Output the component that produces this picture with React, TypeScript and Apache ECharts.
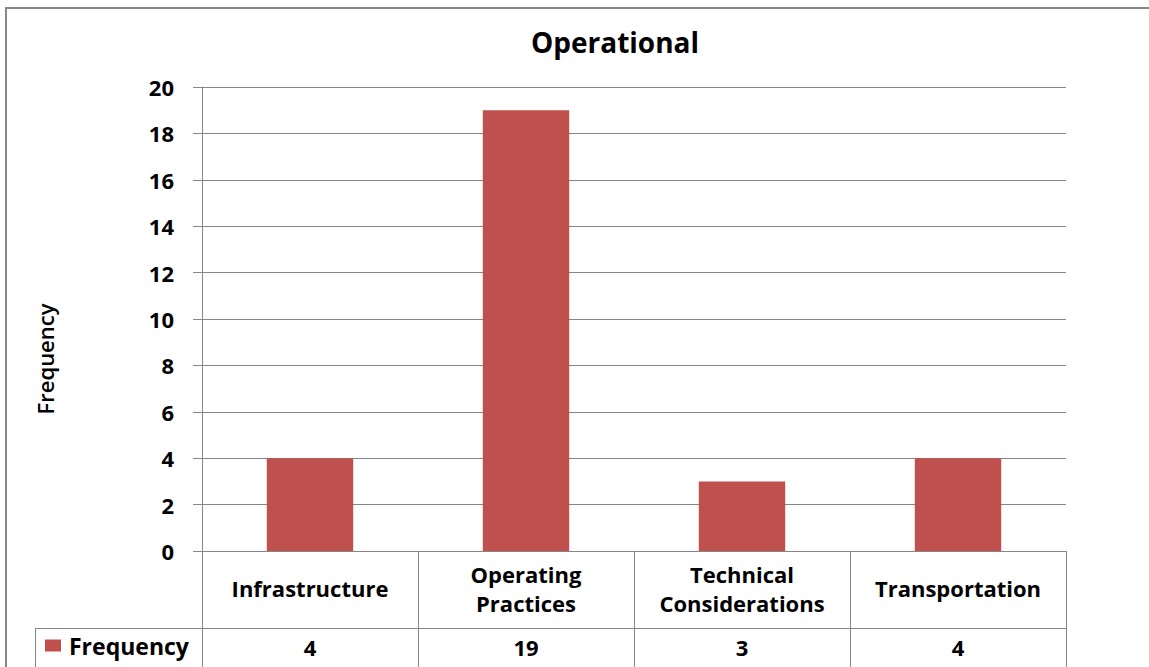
import React, { useEffect, useRef } from "react";
import * as echarts from "echarts";

const categories = ["Infrastructure", "Operating\nPractices", "Technical\nConsiderations", "Transportation"];
const frequency = [4, 19, 3, 4];
const yTicks = { min: 0, max: 20, interval: 2 };
const seriesName = "Frequency";
const titleText = "Operational";
const yAxisName = "Frequency";

const FONT = "'Open Sans', 'Noto Sans', sans-serif";
const GRAY = "#868686";
const RED = "#C0504D";

export default function App() {
  const ref = useRef<HTMLDivElement>(null);
  useEffect(() => {
    if (!ref.current) return;
    const chart = echarts.init(ref.current, null, { renderer: "svg" });
    chart.setOption({
      animation: false,
      backgroundColor: "#ffffff",
      title: {
        text: titleText,
        left: 531,
        top: 28,
        padding: 0,
        textStyle: { fontFamily: FONT, fontWeight: "bold", fontSize: 28, color: "#000" },
      },
      legend: {
        left: 45,
        top: 634,
        padding: 0,
        icon: "rect",
        itemWidth: 16,
        itemHeight: 12,
        itemGap: 0,
        textStyle: { fontFamily: FONT, fontWeight: "bold", fontSize: 23, color: "#000", padding: [0, 0, 0, 3] },
        data: [seriesName],
      },
      grid: { left: 202, top: 87, right: 83, bottom: 116, containLabel: false },
      xAxis: [
        {
          type: "category",
          data: categories,
          position: "bottom",
          axisLine: { show: true, lineStyle: { color: GRAY, width: 1 } },
          axisTick: { show: true, length: 77, lineStyle: { color: GRAY, width: 1 } },
          axisLabel: {
            interval: 0,
            margin: 37,
            verticalAlign: "middle",
            lineHeight: 29,
            fontFamily: FONT,
            fontWeight: "bold",
            fontSize: 22,
            color: "#000",
          },
          splitLine: { show: false },
        },
        {
          type: "category",
          data: categories,
          position: "bottom",
          offset: 77,
          axisLine: { show: true, lineStyle: { color: GRAY, width: 1 } },
          axisTick: { show: true, length: 42, lineStyle: { color: GRAY, width: 1 } },
          axisLabel: {
            interval: 0,
            margin: 19,
            verticalAlign: "middle",
            fontFamily: FONT,
            fontWeight: "bold",
            fontSize: 22,
            color: "#000",
            formatter: (_v: string, i: number) => String(frequency[i]),
          },
          splitLine: { show: false },
        },
      ],
      yAxis: {
        type: "value",
        min: yTicks.min,
        max: yTicks.max,
        interval: yTicks.interval,
        axisLine: { show: true, lineStyle: { color: GRAY, width: 1 } },
        axisTick: { show: true, length: 9, lineStyle: { color: GRAY, width: 1 } },
        axisLabel: { margin: 28, fontFamily: FONT, fontWeight: "bold", fontSize: 22, color: "#000" },
        splitLine: { show: true, lineStyle: { color: GRAY, width: 1 } },
      },
      series: [
        {
          name: seriesName,
          type: "bar",
          data: frequency,
          barWidth: "40%",
          itemStyle: { color: RED },
          xAxisIndex: 0,
        },
      ],
      graphic: [
        {
          type: "rect",
          shape: { x: 6, y: 8, width: 1170, height: 700 },
          style: { fill: "none", stroke: GRAY, lineWidth: 2 },
          silent: true,
        },
        {
          type: "line",
          shape: { x1: 35, y1: 628.5, x2: 202, y2: 628.5 },
          style: { stroke: GRAY, lineWidth: 1 },
          silent: true,
        },
        {
          type: "line",
          shape: { x1: 35.5, y1: 628, x2: 35.5, y2: 670 },
          style: { stroke: GRAY, lineWidth: 1 },
          silent: true,
        },
        {
          type: "text",
          x: 45,
          y: 359,
          rotation: Math.PI / 2,
          style: {
            text: yAxisName,
            fontFamily: FONT,
            fontSize: 22,
            fontWeight: 600,
            fill: "#000",
            align: "center",
            verticalAlign: "middle",
          },
          silent: true,
        },
      ],
    });
    return () => chart.dispose();
  }, []);
  return (
    <div
      ref={ref}
      style={{ position: "absolute", left: 0, top: 0, width: 1149, height: 667 }}
    />
  );
}
